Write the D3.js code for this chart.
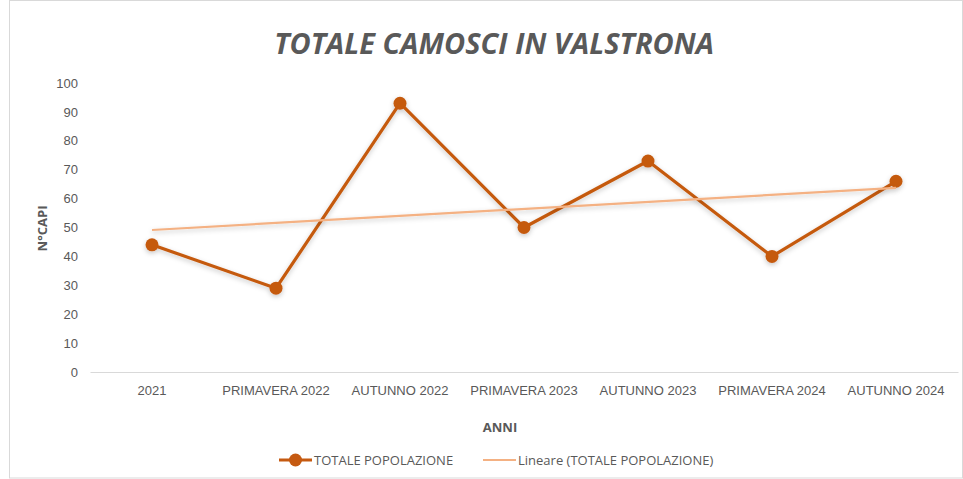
<!DOCTYPE html>
<html>
<head>
<meta charset="utf-8">
<script src="https://cdn.jsdelivr.net/npm/d3@7"></script>
<style>
  html, body { margin: 0; padding: 0; background: #fff; }
  svg { display: block; font-family: "Open Sans", "Liberation Sans", sans-serif; }
</style>
</head>
<body>
<div id="chart"></div>
<script>
(function () {
    "use strict";

    const categories = ["2021", "PRIMAVERA 2022", "AUTUNNO 2022", "PRIMAVERA 2023",
                        "AUTUNNO 2023", "PRIMAVERA 2024", "AUTUNNO 2024"];
    const popolazione = [44, 29, 93, 50, 73, 40, 66];
    const yTicks = [0, 10, 20, 30, 40, 50, 60, 70, 80, 90, 100];

    const WIDTH = 963, HEIGHT = 479;
    const LINE_COLOR = "#C55A11";
    const TREND_COLOR = "#F4B183";
    const TEXT_COLOR = "#595959";

    const margin = { left: 90, right: 5, top: 83, bottom: 107 };

    const svg = d3.select("#chart").append("svg")
        .attr("width", WIDTH).attr("height", HEIGHT);

    /* shadow like excel */
    const defs = svg.append("defs");
    const f = defs.append("filter").attr("id", "shadow")
        .attr("x", "-10%").attr("y", "-10%").attr("width", "120%").attr("height", "130%");
    f.append("feDropShadow").attr("dx", 0).attr("dy", 2).attr("stdDeviation", 2.5)
        .attr("flood-color", "#000").attr("flood-opacity", 0.22);

    /* chart border */
    svg.append("rect")
        .attr("x", 9.5).attr("y", 0.5)
        .attr("width", WIDTH - 10).attr("height", HEIGHT - 1.5)
        .attr("fill", "#fff").attr("stroke", "#d9d9d9");

    const x = d3.scaleBand().domain(categories)
        .range([margin.left, WIDTH - margin.right]);
    const y = d3.scaleLinear().domain([0, 100])
        .range([HEIGHT - margin.bottom - 0, margin.top]);

    /* title */
    svg.append("text")
        .attr("x", 494).attr("y", 54)
        .attr("text-anchor", "middle")
        .attr("font-size", 29).attr("font-weight", "bold").attr("font-style", "italic")
        .attr("fill", TEXT_COLOR)
        .text("TOTALE CAMOSCI IN VALSTRONA");

    /* y axis labels */
    const yAxis = d3.axisLeft(y).tickValues(yTicks).tickSize(0).tickPadding(0);
    const gy = svg.append("g").attr("transform", "translate(78,0)").call(yAxis);
    gy.select(".domain").remove();
    gy.selectAll("text").attr("font-size", 13).attr("fill", TEXT_COLOR)
        .attr("font-family", "inherit");

    /* x axis */
    const xAxis = d3.axisBottom(x).tickSize(0).tickPadding(14);
    const gx = svg.append("g").attr("transform", "translate(0," + y(0) + ")").call(xAxis);
    gx.select(".domain").attr("stroke", "#d9d9d9").attr("stroke-width", 1);
    gx.selectAll("text").attr("font-size", 13).attr("fill", TEXT_COLOR)
        .attr("font-family", "inherit");

    /* axis titles */
    svg.append("text")
        .attr("transform", "translate(47," + ((y(0) + y(100)) / 2 + 1) + ") rotate(-90)")
        .attr("text-anchor", "middle")
        .attr("font-size", 13).attr("font-weight", "bold").attr("fill", TEXT_COLOR)
        .text("N°CAPI");
    svg.append("text")
        .attr("x", 500).attr("y", 432)
        .attr("text-anchor", "middle")
        .attr("font-size", 13).attr("font-weight", "bold").attr("fill", TEXT_COLOR)
        .text("ANNI");

    const cx = function (d, i) { return x(categories[i]) + x.bandwidth() / 2; };

    /* linear trend (least squares, like excel "Lineare") */
    const n = popolazione.length;
    const mx = d3.mean(popolazione, function (d, i) { return i + 1; });
    const my = d3.mean(popolazione);
    const sxy = d3.sum(popolazione, function (d, i) { return (i + 1 - mx) * (d - my); });
    const sxx = d3.sum(popolazione, function (d, i) { return (i + 1 - mx) * (i + 1 - mx); });
    const slope = sxy / sxx;
    const trend = popolazione.map(function (d, i) { return my + slope * (i + 1 - mx); });

    const line = d3.line().x(cx).y(function (d) { return y(d); });

    /* main series */
    const gSeries = svg.append("g").attr("filter", "url(#shadow)");
    gSeries.append("path")
        .datum(popolazione)
        .attr("d", line)
        .attr("fill", "none")
        .attr("stroke", LINE_COLOR)
        .attr("stroke-width", 3.2)
        .attr("stroke-linejoin", "round");
    gSeries.selectAll("circle")
        .data(popolazione)
        .enter().append("circle")
        .attr("cx", cx)
        .attr("cy", function (d) { return y(d); })
        .attr("r", 6.5)
        .attr("fill", LINE_COLOR);

    /* trend line on top */
    svg.append("path")
        .datum([trend[0], trend[n - 1]])
        .attr("d", d3.line()
            .x(function (d, i) { return i === 0 ? cx(null, 0) : cx(null, n - 1); })
            .y(function (d) { return y(d); }))
        .attr("fill", "none")
        .attr("stroke", TREND_COLOR)
        .attr("stroke-width", 2.2)
        .attr("filter", "url(#shadow)");

    /* legend */
    const lg = svg.append("g").attr("transform", "translate(0,460)");
    lg.append("line").attr("x1", 279).attr("x2", 312).attr("y1", 0).attr("y2", 0)
        .attr("stroke", LINE_COLOR).attr("stroke-width", 3.2);
    lg.append("circle").attr("cx", 295.5).attr("cy", 0).attr("r", 6.5).attr("fill", LINE_COLOR);
    lg.append("text").attr("x", 314).attr("y", 4.5)
        .attr("font-size", 13).attr("fill", TEXT_COLOR)
        .text("TOTALE POPOLAZIONE");
    lg.append("line").attr("x1", 483).attr("x2", 516).attr("y1", 0).attr("y2", 0)
        .attr("stroke", TREND_COLOR).attr("stroke-width", 2.2);
    lg.append("text").attr("x", 518).attr("y", 4.5)
        .attr("font-size", 13).attr("fill", TEXT_COLOR)
        .text("Lineare (TOTALE POPOLAZIONE)");
})();
</script>
</body>
</html>
